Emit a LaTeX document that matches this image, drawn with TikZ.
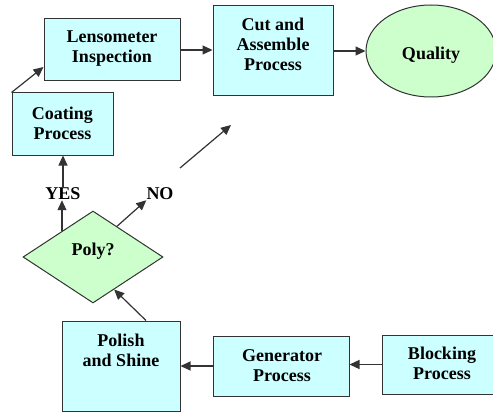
\documentclass[tikz,border=0pt]{standalone}
\usepackage{fontspec}
\setmainfont{Liberation Serif}[BoldFont={Liberation Serif Bold}]
\usetikzlibrary{arrows.meta,shapes.geometric,calc}
\definecolor{boxfill}{HTML}{CCFFFF}
\definecolor{greenfill}{HTML}{CCFFCC}
\definecolor{linec}{HTML}{333333}
\begin{document}
\begin{tikzpicture}[x=1pt,y=-1pt,
  txt/.style={font=\rmfamily\fontsize{18}{20}\selectfont\bfseries, align=center, inner sep=0},
  proc/.style={draw=linec, fill=boxfill, line width=1pt, inner sep=0},
  decis/.style={draw=linec, fill=greenfill, line width=1pt, inner sep=0},
  arr/.style={draw=linec, line width=1.2pt, -{Triangle[length=10pt,width=9pt]}}]
\fill[white] (0,0) rectangle (493,412);
\clip (0,0) rectangle (493,412);
% boxes
\node[proc, minimum width=136pt, minimum height=62pt] (lens) at (112,50) {};
\node[txt] (lenst) at (112,49) {Lensometer\\Inspection};
\node[proc, minimum width=101pt, minimum height=62pt] (coat) at (62.5,124) {};
\node[txt] (coatt) at (62.5,123) {Coating\\Process};
\node[proc, minimum width=120pt, minimum height=90pt] (cut) at (273,51) {};
\node[txt] (cutt) at (273,44) {Cut and\\Assemble\\Process};
\node[decis, ellipse, minimum width=130pt, minimum height=92pt] (qual) at (431,51) {};
\node[txt] (qualt) at (431,55) {Quality};
\node[decis, diamond, aspect=1.52, minimum width=140pt, minimum height=92pt] (poly) at (93,257) {};
\node[txt] (polyt) at (93,251) {Poly?};
\node[proc, minimum width=118pt, minimum height=90pt] (polish) at (121,366) {};
\node[txt] (polisht) at (121,350) {Polish\\and Shine};
\node[proc, minimum width=136pt, minimum height=60pt] (gen) at (281,366) {};
\node[txt] (gent) at (282,366) {Generator\\Process};
\node[proc, minimum width=120pt, minimum height=59pt] (block) at (442,364.5) {};
\node[txt] (blockt) at (442,363) {Blocking\\Process};
% labels
\node[txt] (yes) at (63,194) {YES};
\node[txt] (no) at (160,194) {NO};
\coordinate (nostart) at (180,168);
\coordinate (noend) at (231,125);
% connectors
\draw[arr] (lens.east) -- (lens.east -| cut.west);
\draw[arr] (cut.east) -- (cut.east -| qual.west);
\draw[arr] (coat.north west) -- ([yshift=-17pt]lens.west);
\coordinate (ydia) at ($(poly.north)!0.44!(poly.west)$);
\draw[arr] (ydia) -- (ydia |- yes.south);
\draw[arr] (yes.north) -- (yes.north |- coat.south);
\draw[arr] ($(poly.north)!0.34!(poly.east)$) -- (no.south west);
\draw[arr] (nostart) -- (noend);
\draw[arr] ($(polish.north)+(25,0)$) -- ($(poly.south)!0.3!(poly.east)$);
\draw[arr] (block.west) -- (block.west -| gen.east);
\draw[arr] (gen.west) -- (gen.west -| polish.east);
\end{tikzpicture}
\end{document}
